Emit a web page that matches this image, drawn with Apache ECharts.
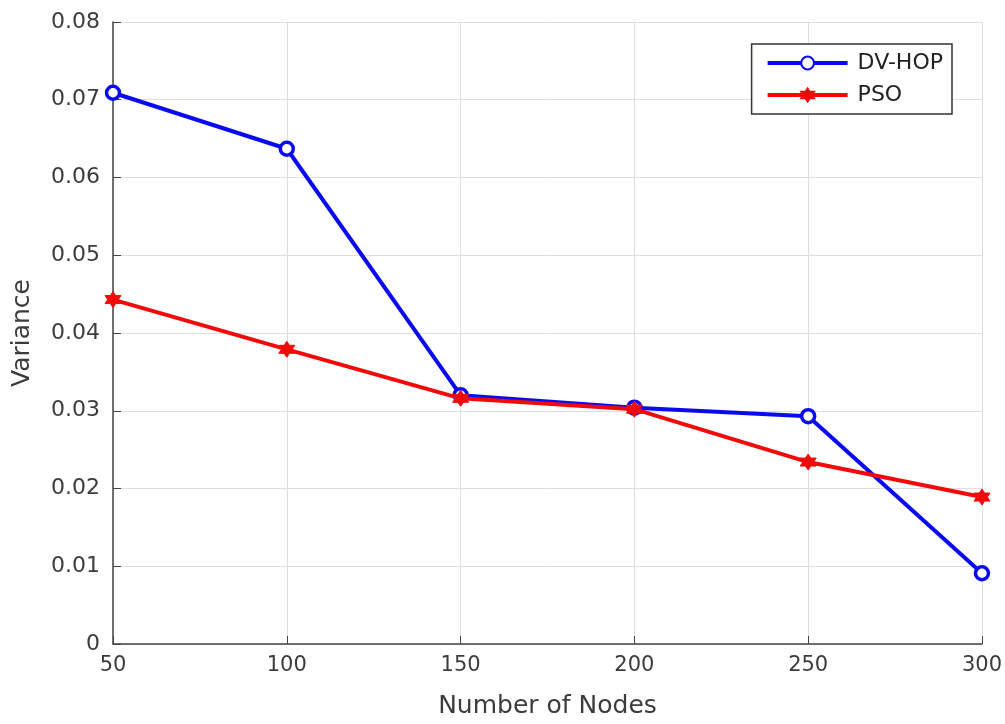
<!DOCTYPE html>
<html>
<head>
<meta charset="utf-8">
<script src="https://cdn.jsdelivr.net/npm/echarts@6/dist/echarts.min.js"></script>
<style>
html, body { margin: 0; padding: 0; background: #fff; }
#chart { width: 1005px; height: 724px; }
</style>
</head>
<body>
<div id="chart"></div>
<script>
// node counts on the x axis
var nodes = [50, 100, 150, 200, 250, 300];
// variance values
var dvHop = [0.0709, 0.0637, 0.0320, 0.0304, 0.0293, 0.0091];
var pso = [0.0443, 0.0379, 0.0316, 0.0302, 0.0234, 0.0189];
var seriesNames = ['DV-HOP', 'PSO'];

var starPath = 'path://M0,-10 L2.9,-5 L8.66,-5 L5.8,0 L8.66,5 L2.9,5 L0,10 L-2.9,5 L-8.66,5 L-5.8,0 L-8.66,-5 L-2.9,-5 Z';

function pairs(ys) {
    return nodes.map(function (x, i) { return [x, ys[i]]; });
}

var chart = echarts.init(document.getElementById('chart'));
var textColor = '#3c3c3c';
var font = 'DejaVu Sans';
var option = {
    backgroundColor: '#fff',
    animation: false,
    grid: { left: 113, right: 22, top: 22, bottom: 79 },
    legend: {
        right: 53,
        top: 44,
        orient: 'vertical',
        backgroundColor: '#fff',
        borderColor: '#333',
        borderWidth: 1.5,
        borderRadius: 0,
        padding: [8, 9, 8, 14],
        itemGap: 10,
        itemWidth: 80,
        itemHeight: 16,
        lineStyle: { width: 4 },
        textStyle: { fontFamily: font, fontSize: 22, lineHeight: 22, color: '#222', padding: [0, 0, 0, 5] },
        data: seriesNames
    },
    xAxis: {
        type: 'value',
        min: 50, max: 300, interval: 50,
        name: 'Number of Nodes',
        nameLocation: 'middle',
        nameGap: 50,
        nameTextStyle: { fontFamily: font, fontSize: 25, color: textColor },
        axisLine: { show: true, onZero: false, lineStyle: { color: '#444', width: 1.5 } },
        axisTick: { show: true, inside: true, length: 8, lineStyle: { color: '#444' } },
        axisLabel: { fontFamily: font, fontSize: 21, color: textColor, margin: 11 },
        splitLine: { show: true, lineStyle: { color: '#dedede', width: 1 } }
    },
    yAxis: {
        type: 'value',
        min: 0, max: 0.08, interval: 0.01,
        name: 'Variance',
        nameLocation: 'middle',
        nameGap: 78,
        nameTextStyle: { fontFamily: font, fontSize: 25, color: textColor },
        axisLine: { show: true, lineStyle: { color: '#444', width: 1.5 } },
        axisTick: { show: true, inside: true, length: 8, lineStyle: { color: '#444' } },
        axisLabel: {
            fontFamily: font, fontSize: 22, color: textColor, margin: 13,
            formatter: function (v) { return v === 0 ? '0' : v.toFixed(2); }
        },
        splitLine: { show: true, lineStyle: { color: '#dedede', width: 1 } }
    },
    series: [
        {
            name: seriesNames[0],
            type: 'line',
            data: pairs(dvHop),
            symbol: 'circle',
            symbolSize: 13,
            showAllSymbol: true,
            lineStyle: { color: '#0a0af0', width: 4 },
            itemStyle: { color: '#fff', borderColor: '#0a0af0', borderWidth: 3.5 },
            z: 3
        },
        {
            name: seriesNames[1],
            type: 'line',
            data: pairs(pso),
            symbol: starPath,
            symbolSize: 16,
            showAllSymbol: true,
            lineStyle: { color: '#f00a0a', width: 4 },
            itemStyle: { color: '#f00a0a', borderColor: '#f00a0a', borderWidth: 1 },
            z: 4
        }
    ]
};
chart.setOption(option);
</script>
</body>
</html>
